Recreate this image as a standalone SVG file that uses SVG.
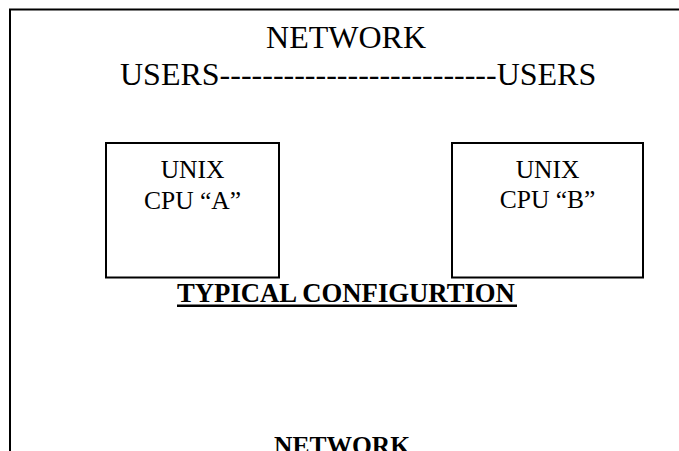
<svg xmlns="http://www.w3.org/2000/svg" width="679" height="451" viewBox="0 0 679 451">
<style>
.ln{stroke:#000;stroke-width:2;fill:none}
.box{stroke:#000;stroke-width:2;fill:#fff}
.t{font-family:"Liberation Serif","Times New Roman",serif;fill:#000}
.hd{font-size:32px}
.bx{font-size:25.5px;text-anchor:middle}
.bd{font-weight:bold;font-size:26.7px}
</style>
<rect width="679" height="451" fill="#fff"/>
<g id="frame">
<path class="ln" d="M10,451 V9.5 H679"/>
</g>
<g id="header">
<text class="t hd" x="346" y="48" text-anchor="middle">NETWORK</text>
<text class="t hd" x="120" y="85">USERS--------------------------USERS</text>
</g>
<g id="cpuA">
<rect class="box" x="106" y="143" width="173" height="134.5"/>
<text class="t bx" x="192.5" y="178">UNIX</text>
<text class="t bx" x="192.5" y="209">CPU “A”</text>
</g>
<g id="cpuB">
<rect class="box" x="452" y="143" width="191" height="134.5"/>
<text class="t bx" x="547.5" y="178">UNIX</text>
<text class="t bx" x="547.5" y="208">CPU “B”</text>
</g>
<g id="connectors"></g>
<g id="title">
<text class="t bd" x="177" y="302">TYPICAL CONFIGURTION</text>
<rect x="177" y="304.5" width="340" height="2.5" fill="#000"/>
</g>
<g id="bottom">
<text class="t bd" x="342" y="454" text-anchor="middle" style="font-size:25.5px">NETWORK</text>
</g>
</svg>
